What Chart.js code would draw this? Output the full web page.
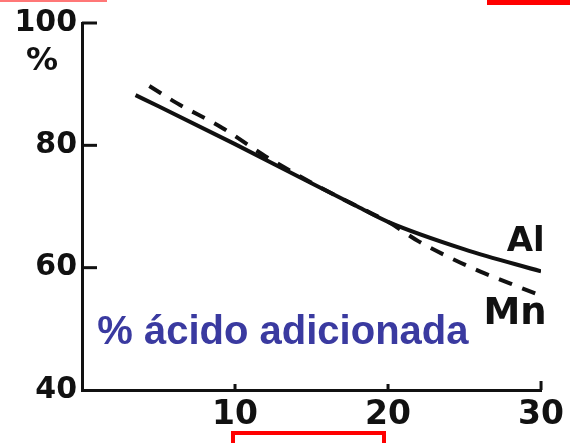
<!DOCTYPE html>
<html>
<head>
<meta charset="utf-8">
<script src="https://cdn.jsdelivr.net/npm/chart.js@4"></script>
<style>
  html, body { margin: 0; padding: 0; background: #fff; }
  #wrap { position: relative; width: 570px; height: 443px; overflow: hidden; }
  .mark { position: absolute; box-sizing: border-box; }
</style>
</head>
<body>
<div id="wrap">
  <canvas id="chart" width="570" height="443"></canvas>
  <div class="mark" style="left:0;top:0;width:107px;height:2px;background:#f77;"></div>
  <div class="mark" style="left:487px;top:0;width:83px;height:5px;background:#f00;"></div>
  <div class="mark" style="left:231px;top:431px;width:155px;height:24px;border:4px solid #f00;"></div>
</div>
<script>
// values (% vs % acid added)
const alX = [3.5, 5, 10, 15, 18, 20, 25, 30];
const alY = [88.2, 86.4, 80.2, 73.8, 70.0, 67.5, 63.0, 59.4];
const mnX = [4.4, 6.2, 9.2, 12, 15, 18, 20, 22, 24, 26, 28, 30];
const mnY = [89.7, 86.9, 82.8, 78.2, 73.9, 70.0, 67.5, 64.3, 61.7, 59.4, 57.4, 55.4];
const xTicks = [10, 20, 30];
const yTicks = [40, 60, 80, 100];

const tickFont = { family: "DejaVu Sans", weight: "bold", size: 30 };

// inner tick marks and the text written on the figure
const extras = {
  id: "extras",
  afterDraw(chart) {
    const { ctx, chartArea, scales } = chart;
    const x = scales.x, y = scales.y;
    ctx.save();
    ctx.strokeStyle = "#111";
    ctx.lineWidth = 3;
    yTicks.forEach((v) => {
      if (v === 40) return;
      const py = y.getPixelForValue(v);
      ctx.beginPath();
      ctx.moveTo(chartArea.left, py);
      ctx.lineTo(chartArea.left + 15, py);
      ctx.stroke();
    });
    xTicks.forEach((v) => {
      const px = x.getPixelForValue(v);
      ctx.beginPath();
      ctx.moveTo(px, chartArea.bottom);
      ctx.lineTo(px, chartArea.bottom - (v === 30 ? 9 : 6));
      ctx.stroke();
    });

    ctx.fillStyle = "#111";
    ctx.textBaseline = "middle";
    ctx.textAlign = "center";
    ctx.font = "bold 32px 'DejaVu Sans'";
    ctx.fillText("%", chartArea.left - 40, y.getPixelForValue(93.7));

    ctx.font = "bold 34px 'DejaVu Sans'";
    ctx.fillText("Al", x.getPixelForValue(29.0), y.getPixelForValue(64.1));
    ctx.font = "bold 37px 'DejaVu Sans'";
    ctx.fillText("Mn", x.getPixelForValue(28.3), y.getPixelForValue(52.4));

    ctx.textAlign = "left";
    ctx.fillStyle = "#3a3aa0";
    ctx.font = "bold 40px 'Liberation Sans'";
    ctx.fillText("% ácido adicionada", x.getPixelForValue(1.0), y.getPixelForValue(49.3));
    ctx.restore();
  },
};

new Chart(document.getElementById("chart"), {
  type: "line",
  data: {
    datasets: [
      {
        label: "Al",
        data: alX.map((v, i) => ({ x: v, y: alY[i] })),
        borderColor: "#111",
        borderWidth: 4,
        pointRadius: 0,
        cubicInterpolationMode: "monotone",
      },
      {
        label: "Mn",
        data: mnX.map((v, i) => ({ x: v, y: mnY[i] })),
        borderColor: "#111",
        borderWidth: 4,
        borderDash: [14, 11],
        pointRadius: 0,
        cubicInterpolationMode: "monotone",
      },
    ],
  },
  options: {
    responsive: false,
    animation: false,
    layout: { padding: { top: 17, right: 28, left: 0, bottom: 0 } },
    plugins: { legend: { display: false }, tooltip: { enabled: false } },
    scales: {
      x: {
        type: "linear",
        min: 0,
        max: 30,
        afterBuildTicks: (scale) => {
          scale.ticks = xTicks.map((v) => ({ value: v }));
        },
        grid: { display: false, drawTicks: false },
        border: { display: true, color: "#111", width: 3 },
        ticks: { color: "#111", font: { ...tickFont, size: 33 }, padding: 6, maxRotation: 0 },
        afterFit: (scale) => { scale.height = 53; },
      },
      y: {
        min: 40,
        max: 100,
        afterBuildTicks: (scale) => {
          scale.ticks = yTicks.map((v) => ({ value: v }));
        },
        grid: { display: false, drawTicks: false },
        border: { display: true, color: "#111", width: 3 },
        ticks: { color: "#111", font: tickFont, padding: 5 },
        afterFit: (scale) => { scale.width = 82; },
      },
    },
  },
  plugins: [extras],
});
</script>
</body>
</html>
